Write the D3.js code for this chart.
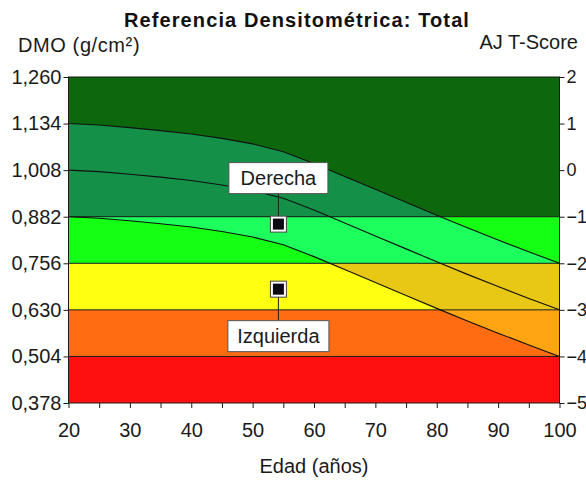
<!DOCTYPE html>
<html>
<head>
<meta charset="utf-8">
<script src="https://cdn.jsdelivr.net/npm/d3@7"></script>
<style>
html,body{margin:0;padding:0;background:#fff;}
svg{display:block;font-family:"Liberation Sans",Arial,sans-serif;}
</style>
</head>
<body>
<svg id="chart" width="586" height="481"></svg>
<script>
// ---- data ----
const ages      = [20,25,30,35,40,45,50,55,60,65,70,75,80,85,90,95,100];
const upperSD   = [1.134,1.130,1.123,1.115,1.106,1.094,1.079,1.058,1.026,0.991,0.956,0.921,0.886,0.852,0.819,0.787,0.756];
const meanCurve = [1.008,1.004,0.997,0.989,0.980,0.968,0.953,0.932,0.900,0.865,0.830,0.795,0.760,0.726,0.693,0.661,0.630];
const lowerSD   = [0.882,0.878,0.871,0.863,0.854,0.842,0.827,0.806,0.774,0.739,0.704,0.669,0.634,0.600,0.567,0.535,0.504];

const bandEdges   = [0.378,0.504,0.630,0.756,0.882,1.260];
const bandColors  = ["#ff1010","#ff6c12","#ffff12","#14ff14","#0d670d"];
const shadeColors = ["#ff4a10","#ffa412","#e8c814","#1cff5c","#149048"];

const bmdTicks    = [0.378,0.504,0.630,0.756,0.882,1.008,1.134,1.260];
const tscoreTicks = [-5,-4,-3,-2,-1,0,1,2];
const ageTicks    = [20,25,30,35,40,45,50,55,60,65,70,75,80,85,90,95,100];
const ageLabels   = [20,30,40,50,60,70,80,90,100];

const siteNames = ["Derecha","Izquierda"];
const siteAges  = [54.2,54.2];
const siteBMD   = [0.862,0.686];

// ---- layout ----
const svg = d3.select("#chart");
const L = 68.5, R = 559.5, T = 77, B = 403;
const x = d3.scaleLinear().domain([20,100]).range([L,R]);
const y = d3.scaleLinear().domain([0.378,1.260]).range([B,T]);
const yT = d3.scaleLinear().domain([-5,2]).range([B,T]);

const defs = svg.append("defs");
const plot = svg.append("g");

// bands + shaded SD region per band
bandColors.forEach((c,i)=>{
  const y0 = y(bandEdges[i+1]), y1 = y(bandEdges[i]);
  plot.append("rect").attr("x",L).attr("y",y0).attr("width",R-L).attr("height",y1-y0).attr("fill",c);
  defs.append("clipPath").attr("id","band"+i)
    .append("rect").attr("x",L).attr("y",y0).attr("width",R-L).attr("height",y1-y0);
});
const area = d3.area().x((d,i)=>x(ages[i])).y0((d,i)=>y(lowerSD[i])).y1((d,i)=>y(upperSD[i]));
shadeColors.forEach((c,i)=>{
  plot.append("path").datum(ages).attr("d",area).attr("fill",c).attr("clip-path","url(#band"+i+")");
});

// band boundary lines
bandEdges.slice(1,-1).forEach(v=>{
  plot.append("line").attr("x1",L).attr("x2",R).attr("y1",y(v)).attr("y2",y(v))
    .attr("stroke","#1a1a1a").attr("stroke-width",1);
});

// curves
const line = arr => d3.line().x((d,i)=>x(ages[i])).y((d,i)=>y(arr[i]))(ages);
[upperSD,meanCurve,lowerSD].forEach(arr=>{
  plot.append("path").attr("d",line(arr)).attr("fill","none").attr("stroke","#111").attr("stroke-width",1.1);
});

// frame
plot.append("rect").attr("x",L).attr("y",T).attr("width",R-L).attr("height",B-T)
  .attr("fill","none").attr("stroke","#1a1a1a").attr("stroke-width",1);

// axes
const fmt = d => d3.format(".3f")(d).replace(".",",");
const gl = svg.append("g").attr("transform",`translate(${L},0)`)
  .call(d3.axisLeft(y).tickValues(bmdTicks).tickFormat(fmt).tickSize(5).tickPadding(2));
const gr = svg.append("g").attr("transform",`translate(${R},0)`)
  .call(d3.axisRight(yT).tickValues(tscoreTicks).tickFormat(d3.format("d")).tickSize(5).tickPadding(2));
const gb = svg.append("g").attr("transform",`translate(0,${B})`)
  .call(d3.axisBottom(x).tickValues(ageTicks).tickFormat(d=>ageLabels.includes(d)?d:"").tickSize(5).tickPadding(15));
[gl,gr,gb].forEach(g=>{
  g.select(".domain").remove();
  g.selectAll(".tick line").attr("stroke","#1a1a1a");
  g.selectAll(".tick text").attr("fill","#1a1a1a").style("font-size","20px")
    .style("font-family","'Liberation Sans',Arial,sans-serif");
});
gr.selectAll(".tick text").style("font-size","18px");

// site markers and labels
const labelDy = [-46, 47];
siteNames.forEach((name,i)=>{
  const cx = x(siteAges[i]), cy = y(siteBMD[i]);
  const ly = cy + labelDy[i];
  const bw = name.length > 7 ? 101 : 99, bh = 31;
  svg.append("line").attr("x1",cx).attr("x2",cx)
    .attr("y1", i===0 ? ly+bh/2 : cy)
    .attr("y2", i===0 ? cy : ly-bh/2)
    .attr("stroke","#222").attr("stroke-width",1);
  svg.append("rect").attr("x",cx-bw/2).attr("y",ly-bh/2).attr("width",bw).attr("height",bh)
    .attr("fill","#fff").attr("stroke","#555").attr("stroke-width",1);
  svg.append("text").attr("x",cx).attr("y",ly+7).attr("text-anchor","middle")
    .style("font-size","20px").attr("fill","#1a1a1a").text(name);
  svg.append("rect").attr("x",cx-8).attr("y",cy-8).attr("width",16).attr("height",16)
    .attr("fill","#fff").attr("stroke","#444").attr("stroke-width",1);
  svg.append("rect").attr("x",cx-5.5).attr("y",cy-5.5).attr("width",11).attr("height",11)
    .attr("fill","#0a0a10");
});

// titles
svg.append("text").attr("x",297).attr("y",27).attr("text-anchor","middle")
  .style("font-size","20px").style("font-weight","bold").style("letter-spacing","1.1px")
  .attr("fill","#111").text("Referencia Densitométrica: Total");
svg.append("text").attr("x",18).attr("y",52)
  .style("font-size","20px").style("letter-spacing","0.6px").attr("fill","#1a1a1a").text("DMO (g/cm²)");
svg.append("text").attr("x",578).attr("y",49).attr("text-anchor","end")
  .style("font-size","20px").attr("fill","#1a1a1a").text("AJ T-Score");
svg.append("text").attr("x",(L+R)/2).attr("y",473).attr("text-anchor","middle")
  .style("font-size","20px").attr("fill","#1a1a1a").text("Edad (años)");
</script>
</body>
</html>
